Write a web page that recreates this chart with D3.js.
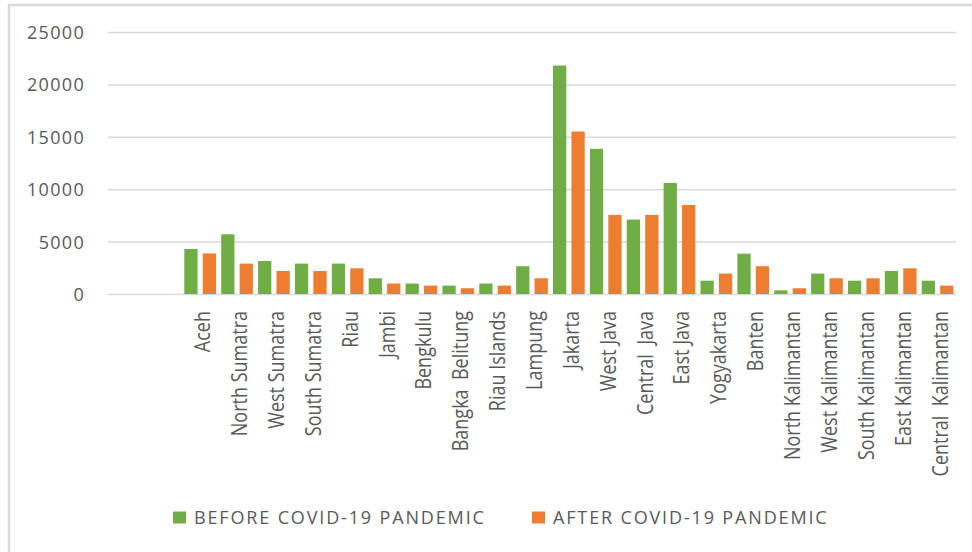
<!DOCTYPE html>
<html>
<head>
<meta charset="utf-8">
<script src="https://cdn.jsdelivr.net/npm/d3@7/dist/d3.min.js"></script>
<style>
  html, body { margin: 0; padding: 0; background: #ffffff; }
  svg { display: block; }
  text { font-family: "Open Sans", "Liberation Sans", sans-serif; fill: #595959; }
</style>
</head>
<body>
<script>
// Provinces along the category axis
const categories = [
  "Aceh", "North Sumatra", "West Sumatra", "South Sumatra", "Riau", "Jambi",
  "Bengkulu", "Bangka  Belitung", "Riau Islands", "Lampung", "Jakarta",
  "West Java", "Central  Java", "East Java", "Yogyakarta", "Banten",
  "North Kalimantan", "West Kalimantan", "South Kalimantan", "East Kalimantan",
  "Central  Kalimantan"
];

// Series names and values, one per province
const seriesNames = ["BEFORE COVID-19 PANDEMIC", "AFTER COVID-19 PANDEMIC"];
const beforeValues = [
  4300, 5700, 3150, 2900, 2900, 1500, 1000, 800, 1000, 2650, 21800,
  13850, 7100, 10600, 1270, 3850, 350, 1950, 1270, 2200, 1270
];
const afterValues = [
  3870, 2900, 2200, 2200, 2450, 1000, 800, 550, 800, 1500, 15500,
  7550, 7550, 8500, 1950, 2650, 550, 1500, 1500, 2450, 800
];
const seriesColors = ["#70ad47", "#ed7d31"];

// Value axis ticks
const yTicks = [0, 5000, 10000, 15000, 20000, 25000];

const width = 972, height = 552;
const plot = { left: 108, right: 956, top: 32, bottom: 294 };
const leadingEmptySlots = 2;      // the category axis reserves two empty slots before the first province
const slot = (plot.right - plot.left) / (categories.length + leadingEmptySlots);

const svg = d3.select("body").append("svg")
  .attr("width", width)
  .attr("height", height);

// Outer frame (left and top edges)
svg.append("path")
  .attr("d", `M9,${height} L9,5 L${width},5`)
  .attr("fill", "none")
  .attr("stroke", "#d9d9d9")
  .attr("stroke-width", 2.5);

const x = d3.scaleBand()
  .domain(categories)
  .range([plot.left + leadingEmptySlots * slot, plot.right]);

const xSeries = d3.scaleBand()
  .domain(seriesNames)
  .range([0, x.bandwidth()])
  .paddingInner(0.28)
  .paddingOuter(0.14);

const y = d3.scaleLinear()
  .domain([0, 25000])
  .range([plot.bottom, plot.top]);

// Gridlines and value labels
const yAxis = svg.append("g")
  .attr("transform", `translate(${plot.left},0)`)
  .call(d3.axisLeft(y)
    .tickValues(yTicks)
    .tickFormat(d3.format("d"))
    .tickSize(-(plot.right - plot.left))
    .tickPadding(23));
yAxis.select(".domain").remove();
yAxis.selectAll(".tick line")
  .attr("stroke", "#d9d9d9")
  .attr("stroke-width", 1.5);
yAxis.selectAll(".tick text")
  .attr("font-size", 18)
  .attr("letter-spacing", "1.3px")
  .attr("dy", "0.36em")
  .style("fill", "#595959");

// Bars
const rows = categories.map((c, i) => ({ category: c, values: [beforeValues[i], afterValues[i]] }));

const groups = svg.append("g")
  .selectAll("g")
  .data(rows)
  .join("g")
  .attr("transform", d => `translate(${x(d.category)},0)`);

groups.selectAll("rect")
  .data(d => d.values.map((v, k) => ({ series: seriesNames[k], value: v, k })))
  .join("rect")
  .attr("x", d => xSeries(d.series))
  .attr("width", xSeries.bandwidth())
  .attr("y", d => y(d.value))
  .attr("height", d => y(0) - y(d.value))
  .attr("fill", d => seriesColors[d.k]);

// Category labels, rotated to read bottom-to-top
const xAxis = svg.append("g")
  .attr("transform", `translate(0,${plot.bottom})`)
  .call(d3.axisBottom(x).tickSize(0).tickPadding(0));
xAxis.select(".domain").remove();
xAxis.selectAll(".tick text")
  .attr("font-size", 18)
  .attr("text-anchor", "end")
  .attr("x", 0)
  .attr("y", 0)
  .attr("dy", 0)
  .attr("transform", "translate(10,17) rotate(-90) scale(1,1.2)")
  .style("fill", "#595959")
  .style("white-space", "pre");

// Legend
const legendItems = [
  { name: seriesNames[0], color: seriesColors[0], x: 173 },
  { name: seriesNames[1], color: seriesColors[1], x: 532 }
];
const legend = svg.append("g")
  .selectAll("g")
  .data(legendItems)
  .join("g")
  .attr("transform", d => `translate(${d.x},511.5)`);
legend.append("rect")
  .attr("width", 13)
  .attr("height", 12)
  .attr("fill", d => d.color);
legend.append("text")
  .attr("x", 21)
  .attr("y", 12.5)
  .attr("font-size", 18)
  .attr("letter-spacing", "1.85px")
  .text(d => d.name);
</script>
</body>
</html>
